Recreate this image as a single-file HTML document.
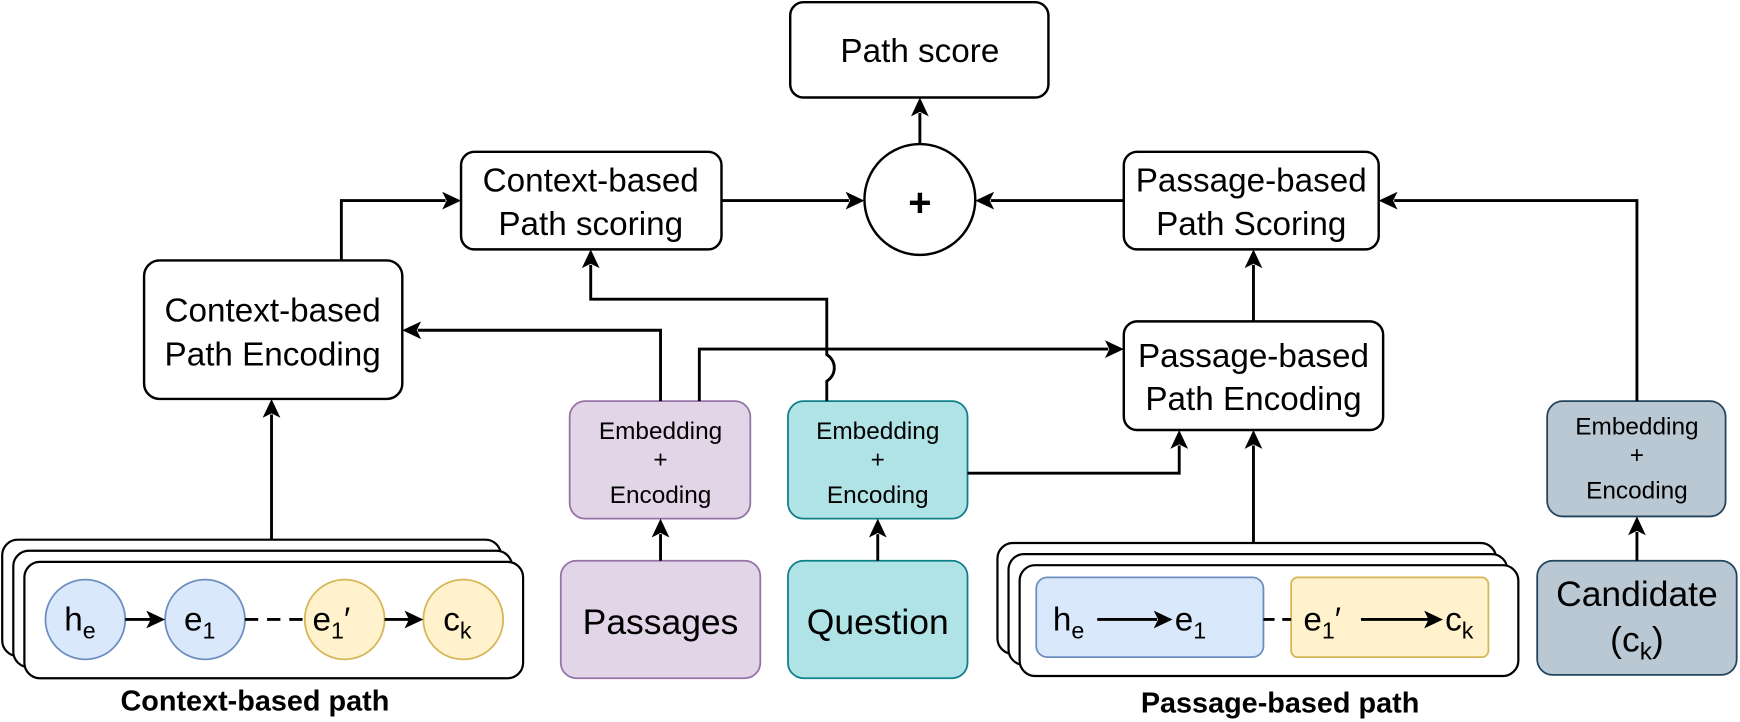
<!DOCTYPE html>
<html><head><meta charset="utf-8"><style>
html,body{margin:0;padding:0;background:#fff;}
svg{display:block;}
text{font-family:"Liberation Sans",Arial,sans-serif;fill:#000;}
</style></head><body>
<svg width="1740" height="722" viewBox="0 0 1570 651.5" preserveAspectRatio="none" xmlns="http://www.w3.org/2000/svg">
<g fill="none" stroke="#000" stroke-width="2.2">
<rect x="713" y="2" width="233" height="86" rx="12" fill="#fff"/>
<circle cx="830" cy="180" r="50" fill="#fff"/>
<rect x="416" y="137" width="235" height="88" rx="12" fill="#fff"/>
<rect x="1014" y="137" width="230" height="88" rx="12" fill="#fff"/>
<rect x="130" y="235" width="233" height="125" rx="14" fill="#fff"/>
<rect x="1014" y="290" width="234" height="98" rx="12" fill="#fff"/>
</g>
<g stroke-width="1.6">
<rect x="514" y="362" width="163" height="106" rx="14" fill="#e1d5e7" stroke="#9673a6"/>
<rect x="711" y="362" width="162" height="106" rx="14" fill="#b0e3e6" stroke="#0e8088"/>
<rect x="1396" y="362" width="161" height="104" rx="14" fill="#bac8d3" stroke="#23445d"/>
<rect x="506" y="506" width="180" height="106" rx="14" fill="#e1d5e7" stroke="#9673a6"/>
<rect x="711" y="506" width="162" height="106" rx="14" fill="#b0e3e6" stroke="#0e8088"/>
<rect x="1387" y="506" width="180" height="103" rx="14" fill="#bac8d3" stroke="#23445d"/>
</g>
<g fill="#fff" stroke="#000" stroke-width="2">
<rect x="2" y="487" width="450" height="105" rx="14"/>
<rect x="12" y="497" width="450" height="105" rx="14"/>
<rect x="22" y="507" width="450" height="105" rx="14"/>
<rect x="900" y="490" width="450" height="100" rx="14"/>
<rect x="910" y="500" width="450" height="100" rx="14"/>
<rect x="920" y="510" width="450" height="100" rx="14"/>
</g>
<g stroke-width="1.6">
<circle cx="77" cy="559" r="36" fill="#dae8fc" stroke="#6c8ebf"/>
<circle cx="185" cy="559" r="36" fill="#dae8fc" stroke="#6c8ebf"/>
<circle cx="311" cy="559" r="36" fill="#fff2cc" stroke="#d6b656"/>
<circle cx="418" cy="559" r="36" fill="#fff2cc" stroke="#d6b656"/>
<rect x="935" y="521" width="205" height="72" rx="10" fill="#dae8fc" stroke="#6c8ebf"/>
<rect x="1165" y="521" width="178" height="72" rx="6" fill="#fff2cc" stroke="#d6b656"/>
</g>
<g fill="none" stroke="#000" stroke-width="2.6">
<path d="M245 487V374"/>
<path d="M308 235V181H402"/>
<path d="M651 181H766"/>
<path d="M1014 181H894"/>
<path d="M830 130V102"/>
<path d="M1131 290V239"/>
<path d="M1477 362V181H1258"/>
<path d="M1477 506V480"/>
<path d="M596 506V482"/>
<path d="M792 506V482"/>
<path d="M596 362V298H377"/>
<path d="M631 362V315H1000"/>
<path d="M746 362V344 A14 14 0 0 0 746 320 V270H533V239"/>
<path d="M873 427H1064V402"/>
<path d="M1131 490V402"/>
<path d="M113 559H136"/>
<path d="M221 559H275" stroke-dasharray="12 8"/>
<path d="M347 559H370"/>
<path d="M990 559H1044"/>
<path d="M1140 559H1165" stroke-dasharray="10 7"/>
<path d="M1228 559H1290"/>
</g>
<g fill="#000">
<path d="M416 181l-17-8 4 8-4 8z"/>
<path d="M780 181l-17-8 4 8-4 8z"/>
<path d="M880 181l17-8-4 8 4 8z"/>
<path d="M830 88l-8 17 8-4 8 4z"/>
<path d="M1131 225l-8 17 8-4 8 4z"/>
<path d="M1244 181l17-8-4 8 4 8z"/>
<path d="M1477 466l-8 17 8-4 8 4z"/>
<path d="M596 468l-8 17 8-4 8 4z"/>
<path d="M792 468l-8 17 8-4 8 4z"/>
<path d="M363 298l17-8-4 8 4 8z"/>
<path d="M1014 315l-17-8 4 8-4 8z"/>
<path d="M533 225l-8 17 8-4 8 4z"/>
<path d="M1064 388l-8 17 8-4 8 4z"/>
<path d="M1131 388l-8 17 8-4 8 4z"/>
<path d="M245 360l-8 17 8-4 8 4z"/>
<path d="M149 559l-17-8 4 8-4 8z"/>
<path d="M382 559l-17-8 4 8-4 8z"/>
<path d="M1058 559l-17-8 4 8-4 8z"/>
<path d="M1302 559l-17-8 4 8-4 8z"/>
</g>
<g font-size="30" text-anchor="middle">
<text x="830" y="56">Path score</text>
<text x="533" y="173">Context-based</text>
<text x="533" y="212">Path scoring</text>
<text x="1129" y="173">Passage-based</text>
<text x="1129" y="212">Path Scoring</text>
<text x="246" y="290">Context-based</text>
<text x="246" y="330">Path Encoding</text>
<text x="1131" y="331">Passage-based</text>
<text x="1131" y="370">Path Encoding</text>
<text x="830" y="195" font-size="36" font-weight="bold">+</text>
<text x="596" y="572" font-size="32">Passages</text>
<text x="792" y="572" font-size="32">Question</text>
<text x="1477" y="547" font-size="32">Candidate</text>
<text x="1477" y="588" font-size="32">(c<tspan font-size="22" dy="7">k</tspan><tspan dy="-7">)</tspan></text>
</g>
<g font-size="22" text-anchor="middle">
<text x="596" y="396">Embedding</text><text x="596" y="422">+</text><text x="596" y="454">Encoding</text>
<text x="792" y="396">Embedding</text><text x="792" y="422">+</text><text x="792" y="454">Encoding</text>
<text x="1477" y="392">Embedding</text><text x="1477" y="418">+</text><text x="1477" y="450">Encoding</text>
</g>
<g font-size="30">
<text x="58" y="569">h<tspan font-size="21" dy="7">e</tspan></text>
<text x="166" y="569">e<tspan font-size="21" dy="7">1</tspan></text>
<text x="282" y="569">e<tspan font-size="21" dy="7">1</tspan><tspan dy="-7">′</tspan></text>
<text x="400" y="569">c<tspan font-size="21" dy="7">k</tspan></text>
<text x="950" y="569">h<tspan font-size="21" dy="7">e</tspan></text>
<text x="1060" y="569">e<tspan font-size="21" dy="7">1</tspan></text>
<text x="1176" y="569">e<tspan font-size="21" dy="7">1</tspan><tspan dy="-7">′</tspan></text>
<text x="1304" y="569">c<tspan font-size="21" dy="7">k</tspan></text>
</g>
<g font-size="26" font-weight="bold" text-anchor="middle">
<text x="230" y="641">Context-based path</text>
<text x="1155" y="643">Passage-based path</text>
</g>
</svg>
</body></html>
